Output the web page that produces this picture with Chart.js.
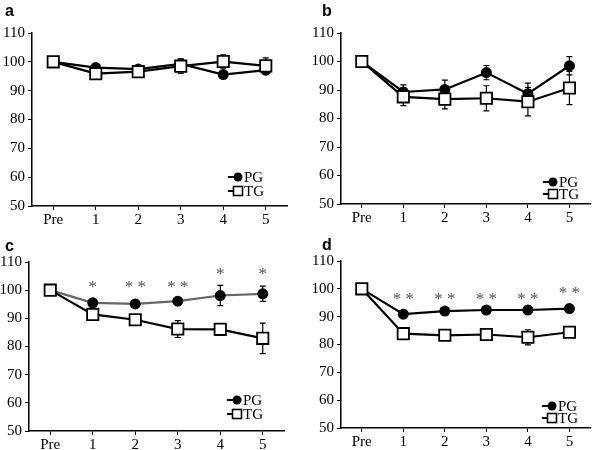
<!DOCTYPE html>
<html>
<head>
<meta charset="utf-8">
<script src="https://cdn.jsdelivr.net/npm/chart.js@4.4.0/dist/chart.umd.min.js"></script>
<style>
  html, body { margin: 0; padding: 0; background: #fff; }
  #wrap { position: relative; width: 600px; height: 450px; background: #fff; }
  canvas { position: absolute; }
</style>
</head>
<body>
<div id="wrap">
  <canvas id="ca" width="300" height="225" style="left:0;top:0"></canvas>
  <canvas id="cb" width="300" height="225" style="left:300px;top:0"></canvas>
  <canvas id="cc" width="300" height="225" style="left:0;top:225px"></canvas>
  <canvas id="cd" width="300" height="225" style="left:300px;top:225px"></canvas>
</div>
<script>
// ---- data ----
const categories = ['Pre', '1', '2', '3', '4', '5'];
const yTickValues = [50, 60, 70, 80, 90, 100, 110];
const seriesNames = ['PG', 'TG'];
const panelLabels = ['a', 'b', 'c', 'd'];

const aPG = [100, 98.0, 97.5, 99.3, 95.6, 97.1];
const aPGerr = [0, 1.0, 0.8, 1.2, 0.8, 1.0];
const aTG = [100, 95.9, 96.6, 98.5, 100.1, 98.6];
const aTGerr = [0, 1.2, 1.0, 2.5, 2.3, 2.8];

const bPG = [100, 89.3, 90.2, 96.1, 88.7, 98.5];
const bPGerr = [0, 2.5, 3.3, 2.5, 3.7, 3.2];
const bTG = [100, 87.6, 86.8, 87.1, 85.9, 90.7];
const bTGerr = [0, 3.1, 3.4, 4.4, 5.0, 5.8];

const cPG = [100, 95.5, 95.1, 96.1, 98.1, 98.7];
const cPGerr = [0, 0.8, 0.8, 0.8, 3.6, 2.7];
const cTG = [100, 91.4, 89.5, 86.2, 86.1, 82.9];
const cTGerr = [0, 0.8, 0.8, 3.0, 0.8, 5.4];
const cStars = ['', '*', '* *', '* *', '*', '*'];
const cStarY = [null, 102.3, 102.3, 102.3, 106.8, 106.8];

const dPG = [100, 90.9, 92.0, 92.4, 92.4, 92.9];
const dPGerr = [0, 0.6, 0.6, 0.6, 0.6, 0.6];
const dTG = [100, 83.9, 83.3, 83.6, 82.6, 84.4];
const dTGerr = [0, 0.8, 0.8, 2.0, 2.7, 0.8];
const dStars = ['', '* *', '* *', '* *', '* *', '* *'];
const dStarY = [null, 97.6, 97.6, 97.6, 97.6, 99.6];

// ---- layout / style (not data) ----
const SERIF = '"Liberation Serif", "Times New Roman", serif';
const SANS = '"Liberation Sans", Arial, sans-serif';

const panels = [
  { id: 'ca', label: panelLabels[0], pg: aPG, pgErr: aPGerr, tg: aTG, tgErr: aTGerr, stars: null, starY: null,
    left: 32, top: 33, bottom: 206, right: 287, pgColor: '#000',
    legend: { x: 238, y1: 177, y2: 191 }, labelPos: { x: 5, y: 16 } },
  { id: 'cb', label: panelLabels[1], pg: bPG, pgErr: bPGerr, tg: bTG, tgErr: bTGerr, stars: null, starY: null,
    left: 41, top: 33, bottom: 204, right: 297, pgColor: '#000',
    legend: { x: 253, y1: 182, y2: 194 }, labelPos: { x: 22, y: 16 } },
  { id: 'cc', label: panelLabels[2], pg: cPG, pgErr: cPGerr, tg: cTG, tgErr: cTGerr, stars: cStars, starY: cStarY,
    left: 29, top: 37, bottom: 206, right: 284, pgColor: '#666',
    legend: { x: 237, y1: 175, y2: 189 }, labelPos: { x: 5, y: 26 } },
  { id: 'cd', label: panelLabels[3], pg: dPG, pgErr: dPGerr, tg: dTG, tgErr: dTGerr, stars: dStars, starY: dStarY,
    left: 41, top: 36, bottom: 203, right: 297, pgColor: '#000',
    legend: { x: 252, y1: 181, y2: 193 }, labelPos: { x: 22, y: 25 } }
];

const errPlugin = {
  id: 'errbars',
  beforeDatasetsDraw(chart) {
    const ctx = chart.ctx;
    const ys = chart.scales.y;
    ctx.save();
    chart.data.datasets.forEach((ds, di) => {
      const meta = chart.getDatasetMeta(di);
      ctx.strokeStyle = ds.errColor || '#000';
      ctx.lineWidth = 1.2;
      meta.data.forEach((pt, i) => {
        const e = ds.errors[i];
        if (!e) return;
        const v = ds.data[i];
        const yt = ys.getPixelForValue(v + e);
        const yb = ys.getPixelForValue(v - e);
        ctx.beginPath();
        ctx.moveTo(pt.x, yt); ctx.lineTo(pt.x, yb);
        ctx.moveTo(pt.x - 3, yt); ctx.lineTo(pt.x + 3, yt);
        ctx.moveTo(pt.x - 3, yb); ctx.lineTo(pt.x + 3, yb);
        ctx.stroke();
      });
    });
    ctx.restore();
  }
};

const decoPlugin = {
  id: 'deco',
  afterDraw(chart) {
    const p = chart.options.plugins.deco;
    const ctx = chart.ctx;
    const xs = chart.scales.x, ys = chart.scales.y;
    ctx.save();
    // panel label
    ctx.fillStyle = '#000';
    ctx.font = 'bold 16px ' + SANS;
    ctx.textAlign = 'left';
    ctx.textBaseline = 'alphabetic';
    ctx.fillText(p.label, p.labelPos.x, p.labelPos.y);
    // asterisks
    if (p.stars) {
      ctx.fillStyle = '#555';
      ctx.font = '17px ' + SERIF;
      ctx.textAlign = 'center';
      p.stars.forEach((s, i) => {
        if (!s) return;
        const x = xs.getPixelForValue(i);
        const y = ys.getPixelForValue(p.starY[i]);
        ctx.fillText(s, x, y + 8);
      });
    }
    // legend
    const L = p.legend;
    ctx.strokeStyle = '#000';
    ctx.lineWidth = 2;
    ctx.beginPath();
    ctx.moveTo(L.x - 10, L.y1); ctx.lineTo(L.x + 3, L.y1);
    ctx.moveTo(L.x - 10, L.y2); ctx.lineTo(L.x + 3, L.y2);
    ctx.stroke();
    ctx.fillStyle = '#000';
    ctx.beginPath();
    ctx.arc(L.x, L.y1, 4.5, 0, Math.PI * 2);
    ctx.fill();
    ctx.fillStyle = '#fff';
    ctx.lineWidth = 1.6;
    ctx.fillRect(L.x - 4.5, L.y2 - 4.5, 9, 9);
    ctx.strokeRect(L.x - 4.5, L.y2 - 4.5, 9, 9);
    ctx.fillStyle = '#000';
    ctx.font = '15px ' + SERIF;
    ctx.textAlign = 'left';
    ctx.textBaseline = 'middle';
    ctx.fillText(seriesNames[0], L.x + 6, L.y1 + 1);
    ctx.fillText(seriesNames[1], L.x + 6, L.y2 + 1);
    ctx.restore();
  }
};

panels.forEach(p => {
  new Chart(document.getElementById(p.id), {
    type: 'line',
    data: {
      labels: categories,
      datasets: [
        { label: seriesNames[1], data: p.tg, errors: p.tgErr, errColor: '#000',
          borderColor: '#000', borderWidth: 2.2, pointStyle: 'rect', pointRadius: 8, pointHoverRadius: 8,
          pointBackgroundColor: '#fff', pointBorderColor: '#000', pointBorderWidth: 1.8, tension: 0 },
        { label: seriesNames[0], data: p.pg, errors: p.pgErr, errColor: '#000',
          borderColor: p.pgColor, borderWidth: 2.2, pointStyle: 'circle', pointRadius: 5.5, pointHoverRadius: 5.5,
          pointBackgroundColor: '#000', pointBorderColor: '#000', pointBorderWidth: 0, tension: 0 }
      ]
    },
    options: {
      responsive: false,
      animation: false,
      events: [],
      layout: { padding: { top: p.top, right: 300 - p.right, left: 0, bottom: 0 } },
      plugins: {
        legend: { display: false },
        tooltip: { enabled: false },
        deco: { label: p.label, labelPos: p.labelPos, stars: p.stars, starY: p.starY, legend: p.legend }
      },
      scales: {
        x: {
          type: 'category',
          offset: true,
          grid: { display: true, drawOnChartArea: false, drawTicks: true, tickLength: 4, color: '#000', offset: false },
          border: { display: true, color: '#000', width: 1.5 },
          ticks: { color: '#000', font: { family: SERIF, size: 15 }, padding: 1, maxRotation: 0, autoSkip: false },
          afterFit(s) { s.height = 225 - p.bottom; }
        },
        y: {
          min: yTickValues[0], max: yTickValues[yTickValues.length - 1],
          afterBuildTicks(s) { s.ticks = yTickValues.map(v => ({ value: v })); },
          grid: { display: true, drawOnChartArea: false, drawTicks: true, tickLength: 4, color: '#000' },
          border: { display: true, color: '#000', width: 1.5 },
          ticks: { color: '#000', font: { family: SERIF, size: 15 }, padding: 3 },
          afterFit(s) { s.width = p.left; }
        }
      }
    },
    plugins: [errPlugin, decoPlugin]
  });
});
</script>
</body>
</html>
